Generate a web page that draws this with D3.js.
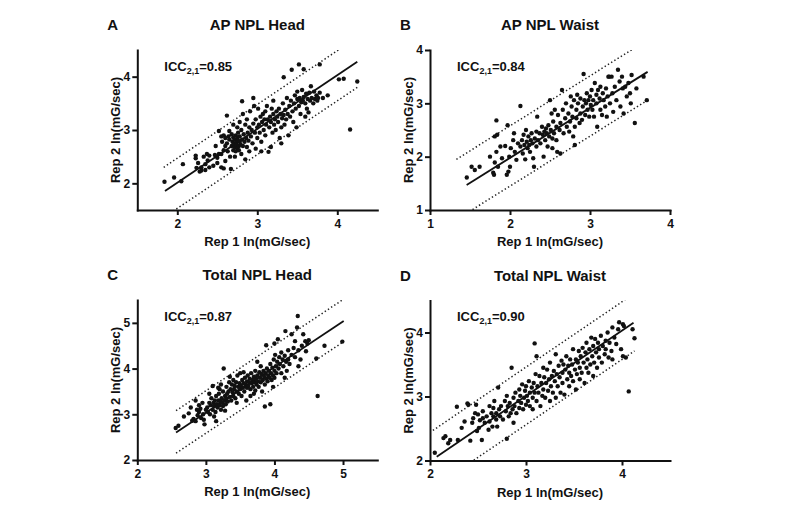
<!DOCTYPE html>
<html><head><meta charset="utf-8">
<script src="https://cdn.jsdelivr.net/npm/d3@7"></script>
<style>
body{margin:0;background:#fff}
text{font-family:"Liberation Sans",Arial,sans-serif;font-weight:bold;fill:#111}
</style>
</head><body>
<svg id="chart" width="800" height="513"></svg>
<script>
const letters = ["A","B","C","D"];
const titles = ["AP NPL Head","AP NPL Waist","Total NPL Head","Total NPL Waist"];
const iccValues = ["0.85","0.84","0.87","0.90"];
const xDomains = [[1.5,4.5],[1,4],[2,5.5],[2,4.5]];
const yDomains = [[1.5,4.5],[1,4],[2,5.5],[2,4.5]];
const xTickValues = [[2,3,4],[1,2,3,4],[2,3,4,5],[2,3,4]];
const yTickValues = [[2,3,4],[1,2,3,4],[2,3,4,5],[2,3,4]];
const xLabel = "Rep 1 ln(mG/sec)";
const yLabel = "Rep 2 ln(mG/sec)";
const regSlope = [1.008,0.937,0.998,1.02];
const regIntercept = [-0.005,0.104,0.04,-0.051];
const regRange = [[1.846,4.25],[1.458,3.72],[2.565,5.01],[2.07,4.12]];
const bandUpper = [0.46,0.6,0.48,0.45];
const bandLower = [-0.48,-0.53,-0.45,-0.45];
const bandRange = [[1.83,4.26],[1.33,3.73],[2.565,5.01],[2.03,4.13]];

const pointsA = [
[1.84,2.03],[1.96,2.11],[2.05,2.04],[2.07,2.36],[2.23,2.47],[2.23,2.52],[2.24,2.29],[2.26,2.38],[2.28,2.22],[2.3,2.3],[2.3,2.24],[2.33,2.5],[2.35,2.36],[2.37,2.55],[2.38,2.43],[2.4,2.52],[2.4,2.3],[2.35,2.25],
[2.45,2.33],[2.47,2.53],[2.5,2.48],[2.5,2.38],[2.52,2.55],[2.52,2.98],[2.55,2.55],[2.55,2.88],[2.56,2.78],[2.58,2.62],[2.58,2.9],[2.6,2.7],[2.6,2.85],[2.62,2.75],[2.62,3.27],[2.63,2.6],[2.64,2.88],[2.65,2.82],[2.66,2.5],[2.67,2.27],[2.68,2.92],[2.68,2.7],[2.69,2.78],[2.7,2.62],[2.7,2.86],[2.55,2.3],[2.6,2.42],[2.48,2.7],[2.65,2.98],[2.58,2.28],
[2.71,2.75],[2.72,2.68],[2.72,2.82],[2.73,2.9],[2.73,2.6],[2.74,2.77],[2.74,2.72],[2.75,2.85],[2.75,2.65],[2.76,2.8],[2.76,2.95],[2.77,2.7],[2.77,2.62],[2.78,2.78],[2.78,2.88],[2.79,2.73],[2.8,3.0],[2.8,2.55],[2.81,3.54],[2.81,2.82],[2.82,2.7],[2.83,2.92],[2.84,2.78],[2.85,3.1],[2.85,2.45],[2.86,2.85],[2.87,3.2],[2.87,2.68],[2.88,2.95],[2.89,2.8],[2.9,3.05],[2.9,2.6],[2.78,3.15],[2.82,3.3],[2.75,3.05],[2.72,2.5],[2.7,3.1],
[2.91,3.35],[2.92,2.88],[2.93,3.0],[2.94,2.75],[2.95,3.12],[2.96,3.45],[2.97,2.95],[2.98,3.2],[2.98,2.65],[3.0,3.05],[3.0,2.85],[3.01,3.4],[3.02,3.1],[3.03,2.95],[3.04,3.25],[3.05,2.78],[3.06,3.15],[3.07,3.3],[3.08,3.0],[3.09,3.2],[3.1,2.9],[3.1,3.35],[3.11,3.1],[3.12,3.45],[3.13,3.2],[3.14,2.59],[3.15,3.05],[3.16,3.25],[3.17,2.68],[3.17,3.15],[3.18,3.4],[3.19,2.95],[3.2,3.3],[3.2,3.55],[3.05,2.6],[2.95,3.6],
[3.21,3.1],[3.22,3.2],[3.23,3.0],[3.24,3.35],[3.25,3.25],[3.26,3.15],[3.27,3.4],[3.28,2.85],[3.29,3.3],[3.3,3.05],[3.31,3.22],[3.32,3.5],[3.33,3.99],[3.33,3.28],[3.34,3.1],[3.35,3.38],[3.36,3.2],[3.37,3.6],[3.38,3.3],[3.39,2.9],[3.4,3.45],[3.41,3.25],[3.42,3.55],[3.43,4.13],[3.44,3.35],[3.45,3.15],[3.46,3.5],[3.47,3.65],[3.48,3.4],[3.49,3.05],[3.5,3.58],[3.5,3.72],[3.52,4.23],[3.52,3.45],[3.3,2.75],
[3.53,3.6],[3.54,3.3],[3.55,3.52],[3.56,3.75],[3.57,3.55],[3.58,4.14],[3.58,3.62],[3.6,3.5],[3.61,3.68],[3.62,3.4],[3.63,3.58],[3.65,3.7],[3.66,3.55],[3.67,3.82],[3.68,3.6],[3.7,3.5],[3.71,3.72],[3.72,3.58],[3.74,3.65],[3.75,3.55],[3.76,3.6],[3.78,4.23],[3.78,3.7],[3.6,3.25],[3.64,3.33],
[3.82,3.6],[3.88,3.65],[4.02,3.95],[4.08,3.96],[4.16,3.01],[4.25,3.91]
];

const pointsB = [
[1.46,1.61],[1.52,1.81],[1.62,1.81],[1.79,1.7],[1.8,1.66],[1.81,1.89],[1.83,2.09],[1.81,2.38],[1.83,2.68],[1.84,2.41],[1.85,1.81],[1.9,1.97],[1.94,2.2],[1.96,1.66],[1.97,2.59],[1.98,1.72],[1.99,2.0],[2.01,2.16],[2.04,2.31],[2.05,2.44],[2.06,2.09],[2.1,2.25],[2.13,2.95],[2.13,2.19],[2.15,2.31],[2.16,2.06],[2.17,2.41],[2.18,2.22],[2.19,1.95],[2.2,2.5],[2.21,2.28],[2.22,2.16],[2.23,2.38],[2.24,2.22],[2.25,2.09],[2.26,2.31],[2.27,2.44],[2.28,2.25],[2.29,1.97],[2.3,1.81],[2.31,2.34],[2.33,2.19],[2.33,2.47],[2.34,2.75],[2.35,2.31],[2.37,2.44],[2.38,2.25],[2.4,2.56],[2.41,2.41],[2.42,2.0],[2.43,2.47],[2.44,2.31],[2.45,2.53],[2.46,2.44],[2.47,2.19],[2.48,2.59],[2.49,2.38],[2.5,3.06],[2.51,2.5],[2.52,2.81],[2.53,2.34],[2.53,2.16],[2.54,2.66],[2.55,2.44],[2.56,2.88],[2.58,2.56],[2.58,2.31],[2.59,2.09],[2.6,2.78],[2.62,2.5],[2.63,2.06],[2.63,2.63],[2.65,3.25],[2.66,2.88],[2.67,2.44],[2.69,2.72],[2.7,3.0],[2.71,2.56],[2.73,2.81],[2.74,2.47],[2.75,2.66],[2.76,3.13],[2.77,2.94],[2.78,2.75],[2.79,2.38],[2.8,3.06],[2.81,2.22],[2.81,2.56],[2.83,2.88],[2.83,2.72],[2.84,3.16],[2.85,3.0],[2.87,2.63],[2.88,2.81],[2.88,3.09],[2.9,2.69],[2.91,2.94],[2.92,3.55],[2.93,3.06],[2.94,2.78],[2.95,3.0],[2.96,3.19],[2.97,2.88],[2.98,3.06],[2.99,2.75],[3.0,3.13],[3.01,2.97],[3.02,3.25],[3.03,2.88],[3.04,3.06],[3.05,2.75],[3.06,3.38],[3.08,3.16],[3.08,3.0],[3.09,2.56],[3.1,3.25],[3.12,3.09],[3.13,2.88],[3.13,3.31],[3.15,2.78],[3.16,3.19],[3.17,3.06],[3.19,2.94],[3.2,3.28],[3.21,2.75],[3.22,3.13],[3.23,3.5],[3.24,3.5],[3.25,3.0],[3.27,3.5],[3.28,3.19],[3.29,2.84],[3.31,3.31],[3.33,3.06],[3.35,3.63],[3.37,3.41],[3.38,2.94],[3.4,3.5],[3.41,3.28],[3.42,2.81],[3.44,3.31],[3.46,3.13],[3.48,3.38],[3.5,3.19],[3.51,3.0],[3.52,3.53],[3.56,2.63],[3.58,3.28],[3.67,3.5],[3.71,3.06],[1.75,2.0],[1.88,2.19],[1.56,1.75],[2.0,1.81],[2.08,1.94]
];

const pointsC = [
[2.56,2.7],[2.6,2.75],[2.68,2.95],[2.75,3.02],[2.8,2.86],[2.82,2.9],[2.85,2.85],[2.87,3.1],[2.88,2.98],[2.9,3.05],[2.92,3.12],[2.93,2.92],[2.95,3.25],[2.96,3.0],[2.97,2.88],[2.98,2.78],[3.0,3.1],[2.9,3.2],[2.78,3.15],[2.85,3.3],
[3.02,3.15],[3.03,3.05],[3.05,3.25],[3.06,3.0],[3.07,3.2],[3.08,3.35],[3.1,3.1],[3.1,3.62],[3.11,3.25],[3.12,3.18],[3.13,3.3],[3.14,3.05],[3.15,3.4],[3.15,2.85],[3.16,3.22],[3.17,3.15],[3.18,3.3],[3.19,3.45],[3.2,3.2],[3.2,3.55],[3.21,3.28],[3.22,3.1],[3.23,3.35],[3.24,3.25],[3.25,3.5],[3.25,3.18],[3.26,4.0],[3.27,3.3],[3.28,3.4],[3.28,3.08],[3.29,3.22],[3.3,3.6],[3.3,3.35],[3.12,2.95],[3.18,3.58],[3.22,3.65],[3.05,3.45],
[3.31,3.45],[3.32,3.28],[3.33,3.5],[3.34,3.7],[3.35,3.38],[3.36,3.55],[3.37,3.3],[3.38,3.65],[3.39,3.48],[3.4,3.75],[3.4,3.4],[3.41,3.55],[3.42,3.62],[3.43,3.35],[3.44,3.7],[3.45,3.5],[3.46,3.85],[3.47,3.6],[3.48,3.45],[3.49,3.68],[3.5,3.55],[3.5,3.9],[3.51,3.62],[3.52,3.4],[3.53,3.75],[3.54,3.58],[3.55,3.68],[3.56,3.5],[3.57,3.8],[3.58,3.65],[3.59,3.3],[3.6,3.72],[3.6,3.58],[3.35,3.82],[3.45,3.25],[3.55,3.92],
[3.61,3.85],[3.62,3.62],[3.63,3.7],[3.64,3.78],[3.65,3.55],[3.66,3.9],[3.67,3.68],[3.68,3.75],[3.69,3.6],[3.7,3.82],[3.7,3.45],[3.71,3.7],[3.72,3.95],[3.73,3.78],[3.74,3.65],[3.75,3.85],[3.76,3.72],[3.77,3.6],[3.78,3.92],[3.79,3.8],[3.8,3.7],[3.8,4.05],[3.81,3.88],[3.82,3.5],[3.83,3.75],[3.84,3.95],[3.85,3.82],[3.86,3.17],[3.86,3.65],[3.87,3.9],[3.88,4.51],[3.88,3.78],[3.89,4.0],[3.9,3.72],[3.75,4.15],[3.65,3.4],[3.72,3.52],
[3.91,3.85],[3.92,3.95],[3.93,3.8],[3.94,3.22],[3.94,4.1],[3.95,3.9],[3.96,3.75],[3.97,4.02],[3.98,3.85],[3.99,4.2],[4.0,3.95],[4.0,3.8],[4.01,4.3],[4.02,4.05],[4.03,3.9],[4.04,4.15],[4.05,4.64],[4.06,4.0],[4.07,4.25],[4.08,4.1],[4.1,3.9],[4.1,4.35],[4.12,4.2],[4.13,4.05],[4.15,4.28],[4.16,4.82],[4.17,4.15],[4.18,3.95],[4.2,4.4],[4.2,4.2],[4.0,4.55],[3.98,3.6],[4.15,3.8],
[4.22,4.1],[4.25,4.3],[4.28,4.45],[4.3,4.25],[4.3,4.6],[4.33,4.9],[4.34,5.15],[4.35,4.4],[4.38,4.2],[4.4,4.5],[4.42,4.75],[4.45,4.6],[4.46,4.38],[4.48,4.55],[4.5,4.62],[4.61,4.22],[4.63,3.4],[4.73,4.5],[4.99,4.59],[4.25,4.75],[4.35,4.05]
];

const pointsD = [
[2.05,2.12],[2.14,2.35],[2.16,2.38],[2.19,2.27],[2.21,2.32],[2.28,2.84],[2.29,2.32],[2.33,2.51],[2.36,2.61],[2.39,2.89],[2.4,2.87],[2.42,2.31],[2.44,2.59],[2.45,2.66],[2.47,2.74],[2.48,2.87],[2.49,2.46],[2.5,2.72],[2.51,2.51],[2.52,2.63],[2.54,2.32],[2.55,2.66],[2.55,2.77],[2.57,2.59],[2.59,2.69],[2.61,2.48],[2.62,2.85],[2.62,2.61],[2.64,2.74],[2.65,2.53],[2.66,2.69],[2.66,2.82],[2.67,2.93],[2.69,2.64],[2.69,2.74],[2.7,2.53],[2.71,3.14],[2.72,2.8],[2.73,2.69],[2.74,2.85],[2.76,2.64],[2.78,2.93],[2.79,2.77],[2.8,2.34],[2.8,3.01],[2.81,2.85],[2.82,2.69],[2.83,2.9],[2.84,2.74],[2.85,3.45],[2.86,2.8],[2.87,2.98],[2.87,2.59],[2.88,2.85],[2.89,3.06],[2.9,2.74],[2.92,2.93],[2.93,3.11],[2.93,2.82],[2.94,3.01],[2.95,2.9],[2.96,3.19],[2.97,2.8],[2.98,2.98],[2.99,3.09],[3.0,2.87],[3.0,3.16],[3.01,3.01],[3.02,2.93],[3.03,3.24],[3.04,3.06],[3.04,2.85],[3.06,3.14],[3.07,2.98],[3.07,2.8],[3.08,3.21],[3.09,3.83],[3.09,3.06],[3.1,3.35],[3.11,2.93],[3.11,3.63],[3.12,3.16],[3.13,3.06],[3.14,3.32],[3.15,2.85],[3.16,3.21],[3.17,3.01],[3.18,3.45],[3.18,3.11],[3.19,3.3],[3.2,2.98],[3.21,3.21],[3.22,3.42],[3.23,3.09],[3.24,3.27],[3.25,2.93],[3.25,3.53],[3.26,3.16],[3.27,3.32],[3.28,3.06],[3.29,3.4],[3.3,3.24],[3.31,2.98],[3.31,3.66],[3.32,3.35],[3.33,3.16],[3.34,3.48],[3.35,3.3],[3.36,3.06],[3.37,3.56],[3.38,3.37],[3.38,3.21],[3.39,3.5],[3.4,3.03],[3.41,3.42],[3.42,3.63],[3.43,3.27],[3.44,3.48],[3.45,3.16],[3.45,3.37],[3.46,3.58],[3.47,3.32],[3.48,3.5],[3.49,3.74],[3.49,3.24],[3.51,3.42],[3.52,3.11],[3.52,3.58],[3.53,3.35],[3.54,3.53],[3.55,3.71],[3.56,3.27],[3.56,3.45],[3.57,3.63],[3.58,3.37],[3.59,3.76],[3.6,3.53],[3.61,3.21],[3.62,3.69],[3.63,3.45],[3.63,3.84],[3.64,3.58],[3.65,3.37],[3.66,3.74],[3.67,3.5],[3.68,3.92],[3.69,3.63],[3.7,3.32],[3.7,3.79],[3.71,3.53],[3.72,3.9],[3.73,3.69],[3.74,3.45],[3.75,3.84],[3.76,3.61],[3.76,3.74],[3.78,3.95],[3.79,3.53],[3.8,3.79],[3.82,3.66],[3.83,3.87],[3.83,3.74],[3.85,4.0],[3.86,3.61],[3.87,3.84],[3.89,3.71],[3.9,4.08],[3.9,3.58],[3.92,3.92],[3.94,3.82],[3.96,4.05],[3.97,4.16],[3.99,3.74],[4.01,4.13],[4.01,3.63],[4.02,4.1],[4.04,3.61],[4.07,3.08],[4.11,4.05],[4.13,3.91]
];

const allPoints = [pointsA, pointsB, pointsC, pointsD];

// layout
const origins = [[137.3,50],[430,50],[137.3,300],[430,300.5]];
const W = 240, H = 160;
const svg = d3.select("#chart");

allPoints.forEach((pts, i) => {
  const [ox, oy] = origins[i];
  const g = svg.append("g").attr("transform", `translate(${ox},${oy})`);
  const x = d3.scaleLinear().domain(xDomains[i]).range([0, W]);
  const y = d3.scaleLinear().domain(yDomains[i]).range([H, 0]);

  const clipId = "clip" + i;
  g.append("clipPath").attr("id", clipId).append("rect")
    .attr("x", 0).attr("y", 0).attr("width", W).attr("height", H);

  const plot = g.append("g").attr("clip-path", `url(#${clipId})`);

  // lines
  const line = d3.line().x(d => x(d[0])).y(d => y(d[1]));
  const f = (xx, off) => regIntercept[i] + regSlope[i] * xx + off;
  const regPts = regRange[i].map(v => [v, f(v, 0)]);
  const upPts = bandRange[i].map(v => [v, f(v, bandUpper[i])]);
  const loPts = bandRange[i].map(v => [v, f(v, bandLower[i])]);
  [upPts, loPts].forEach(p => plot.append("path").attr("d", line(p))
    .attr("fill", "none").attr("stroke", "#222").attr("stroke-width", 1.5)
    .attr("stroke-dasharray", "1.4,2.4"));
  plot.append("path").attr("d", line(regPts)).attr("fill", "none")
    .attr("stroke", "#111").attr("stroke-width", 1.8);

  // points
  plot.selectAll("circle").data(pts).join("circle")
    .attr("cx", d => x(d[0])).attr("cy", d => y(d[1])).attr("r", 2.2)
    .attr("fill", "#111");

  // axes
  const xa = g.append("g").attr("transform", `translate(0,${H})`)
    .call(d3.axisBottom(x).tickValues(xTickValues[i]).tickFormat(d3.format("d"))
      .tickSize(5).tickSizeOuter(0).tickPadding(4));
  const ya = g.append("g")
    .call(d3.axisLeft(y).tickValues(yTickValues[i]).tickFormat(d3.format("d"))
      .tickSize(5).tickSizeOuter(0).tickPadding(2));
  [xa, ya].forEach(a => {
    a.select(".domain").attr("stroke", "#111").attr("stroke-width", 2).attr("stroke-linecap", "square");
    a.selectAll(".tick line").attr("stroke", "#111").attr("stroke-width", 2);
    a.selectAll(".tick text").attr("font-size", 12).attr("font-weight", "bold")
      .attr("font-family", '"Liberation Sans",Arial,sans-serif').attr("fill", "#111");
  });

  // labels
  g.append("text").attr("x", W / 2).attr("y", H + 36).attr("text-anchor", "middle")
    .attr("font-size", 13).text(xLabel);
  g.append("text").attr("transform", `translate(-17,${H / 2}) rotate(-90)`)
    .attr("text-anchor", "middle").attr("font-size", 13).text(yLabel);

  // title and letter
  g.append("text").attr("x", W / 2).attr("y", -20).attr("text-anchor", "middle")
    .attr("font-size", 15).text(titles[i]);
  g.append("text").attr("x", -30).attr("y", -20).attr("font-size", 15).text(letters[i]);

  // ICC
  const t = g.append("text").attr("x", 27).attr("y", 20.5).attr("font-size", 13);
  t.append("tspan").text("ICC");
  t.append("tspan").attr("font-size", 9).attr("dy", 3).text("2,1");
  t.append("tspan").attr("dy", -3).text("=" + iccValues[i]);
});
</script>
</body></html>
